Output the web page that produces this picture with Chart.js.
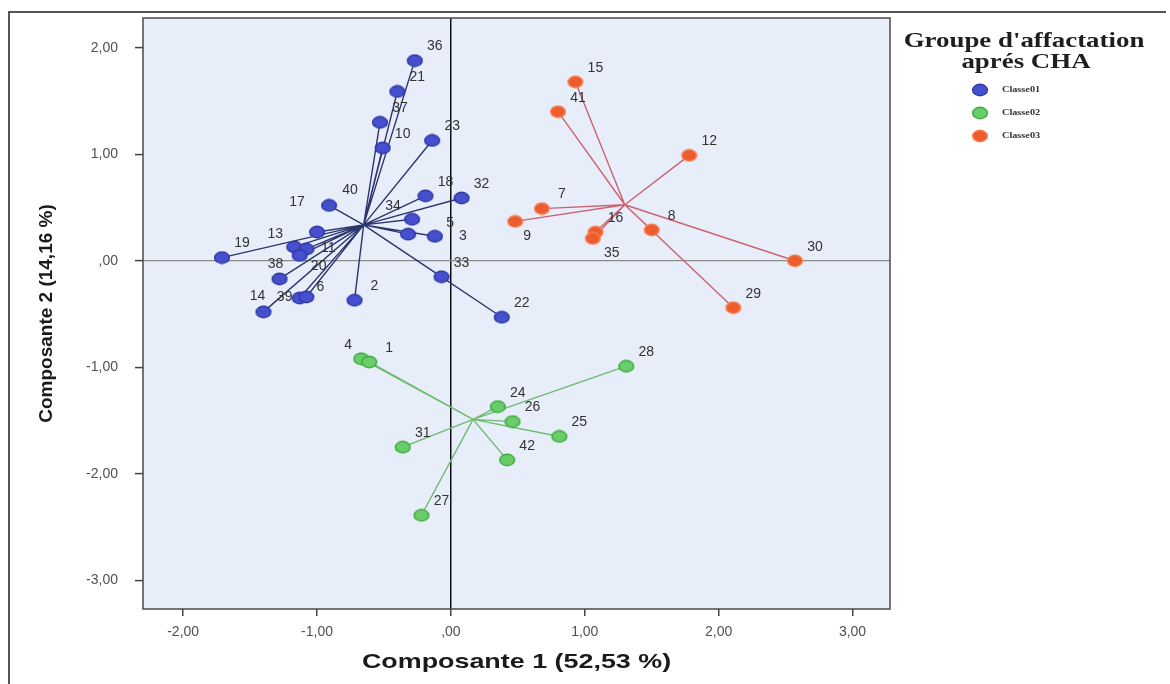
<!DOCTYPE html>
<html lang="fr">
<head>
<meta charset="utf-8">
<title>Groupe d'affactation aprés CHA</title>
<script src="https://cdn.jsdelivr.net/npm/chart.js@4.4.1/dist/chart.umd.min.js"></script>
<style>
  html, body { margin: 0; padding: 0; background: #fff; }
  #wrap { position: relative; width: 1170px; height: 684px; }
</style>
</head>
<body>
<div id="wrap"><canvas id="acp" width="1170" height="684"></canvas></div>
<script>
// Données (plan factoriel, composantes 1 et 2)
const classeLabels = ['Classe01', 'Classe02', 'Classe03'];

const classe01Ids = ['36', '21', '37', '10', '23', '18', '32', '34', '5', '3', '17', '40', '13', '11', '20', '19', '38', '39', '6', '14', '2', '33', '22'];
const classe01X = [-0.27, -0.40, -0.53, -0.51, -0.14, -0.19, 0.08, -0.29, -0.32, -0.12, -0.91, -1.00, -1.17, -1.08, -1.13, -1.71, -1.28, -1.13, -1.08, -1.40, -0.72, -0.07, 0.38];
const classe01Y = [1.88, 1.59, 1.30, 1.06, 1.13, 0.61, 0.59, 0.39, 0.25, 0.23, 0.52, 0.27, 0.13, 0.11, 0.05, 0.03, -0.17, -0.35, -0.34, -0.48, -0.37, -0.15, -0.53];

const classe02Ids = ['4', '1', '28', '24', '26', '25', '31', '42', '27'];
const classe02X = [-0.67, -0.61, 1.31, 0.35, 0.46, 0.81, -0.36, 0.42, -0.22];
const classe02Y = [-0.92, -0.95, -0.99, -1.37, -1.51, -1.65, -1.75, -1.87, -2.39];

const classe03Ids = ['15', '41', '12', '7', '9', '16', '35', '8', '30', '29'];
const classe03X = [0.93, 0.80, 1.78, 0.68, 0.48, 1.08, 1.06, 1.50, 2.57, 2.11];
const classe03Y = [1.68, 1.40, 0.99, 0.49, 0.37, 0.27, 0.21, 0.29, 0.00, -0.44];

const xTicks = [-2, -1, 0, 1, 2, 3];
const xTickLabels = ['-2,00', '-1,00', ',00', '1,00', '2,00', '3,00'];
const yTicks = [-3, -2, -1, 0, 1, 2];
const yTickLabels = ['-3,00', '-2,00', '-1,00', ',00', '1,00', '2,00'];

// Couleurs des groupes
const fillColors = ['rgb(70, 80, 205)', 'rgb(105, 205, 105)', 'rgb(236, 92, 46)'];
const rimColors = ['rgb(48, 56, 168)', 'rgb(62, 172, 62)', 'rgb(246, 128, 80)'];
const spokeColors = ['rgb(44, 54, 108)', 'rgb(112, 186, 112)', 'rgb(206, 98, 112)'];

// Décalage des étiquettes quand elles ne sont pas en haut à droite
const labelShift = {
    '34': [-19, -13], '5': [42, -11], '3': [28, 0], '17': [-32, -3], '40': [33, -42],
    '13': [-19, -13], '11': [22, -1], '20': [19, 11], '38': [-4, -15], '39': [-15, -1],
    '6': [14, -10], '14': [-6, -16], '9': [12, 15], '35': [19, 15], '4': [-13, -14]
};

// la figure d'origine est un peu étirée en largeur
const stretch = 1.28;

function mean(arr) {
    return arr.reduce((a, b) => a + b, 0) / arr.length;
}

function toPoints(xs, ys) {
    return xs.map((x, i) => ({ x: x, y: ys[i] }));
}

// Segments centre de classe -> individu, séparés par des trous
function spokes(xs, ys) {
    const cx = mean(xs), cy = mean(ys);
    const pts = [];
    xs.forEach((x, i) => {
        pts.push({ x: cx, y: cy }, { x: x, y: ys[i] }, { x: null, y: null });
    });
    return pts;
}

function drawEllipse(g, x, y, fill, rim) {
    g.beginPath();
    g.ellipse(x, y, 7.3, 5.7, 0, 0, Math.PI * 2);
    g.fillStyle = fill;
    g.fill();
    g.lineWidth = 1.5;
    g.strokeStyle = rim;
    g.stroke();
}

function markerImage(fill, rim) {
    const c = document.createElement('canvas');
    c.width = 18;
    c.height = 14;
    drawEllipse(c.getContext('2d'), 9, 7, fill, rim);
    return c;
}

const groups = [
    { ids: classe01Ids, xs: classe01X, ys: classe01Y },
    { ids: classe02Ids, xs: classe02X, ys: classe02Y },
    { ids: classe03Ids, xs: classe03X, ys: classe03Y }
];

const datasets = [];
groups.forEach((g, k) => {
    datasets.push({
        label: classeLabels[k],
        data: toPoints(g.xs, g.ys),
        ids: g.ids,
        showLine: false,
        pointStyle: markerImage(fillColors[k], rimColors[k]),
        pointRadius: 7,
        pointHoverRadius: 7,
        order: 0
    });
});
groups.forEach((g, k) => {
    datasets.push({
        label: classeLabels[k] + ' centre',
        data: spokes(g.xs, g.ys),
        showLine: true,
        spanGaps: false,
        borderColor: spokeColors[k],
        borderWidth: 1.4,
        pointRadius: 0,
        pointHoverRadius: 0,
        order: 1
    });
});

const plotBackground = {
    id: 'plotBackground',
    beforeDraw(chart) {
        const { ctx, chartArea: a } = chart;
        ctx.save();
        ctx.fillStyle = '#e7eefa';
        ctx.fillRect(a.left, a.top, a.right - a.left, a.bottom - a.top);
        ctx.restore();
    }
};

const pointLabels = {
    id: 'pointLabels',
    afterDatasetsDraw(chart) {
        const ctx = chart.ctx;
        ctx.save();
        ctx.font = '14px "Liberation Sans", Arial, sans-serif';
        ctx.fillStyle = '#333';
        ctx.textAlign = 'center';
        ctx.textBaseline = 'middle';
        chart.data.datasets.forEach((ds, di) => {
            if (!ds.ids) return;
            chart.getDatasetMeta(di).data.forEach((el, i) => {
                const id = ds.ids[i];
                const s = labelShift[id] || [20, -14];
                ctx.fillText(id, el.x + s[0], el.y + s[1]);
            });
        });
        ctx.restore();
    }
};

function stretchedText(ctx, text, x, y) {
    ctx.save();
    ctx.translate(x, y);
    ctx.scale(stretch, 1);
    ctx.fillText(text, 0, 0);
    ctx.restore();
}

const frameAndLegend = {
    id: 'frameAndLegend',
    afterDraw(chart) {
        const { ctx, chartArea: a } = chart;
        ctx.save();
        // cadre du graphique
        ctx.strokeStyle = '#4a4a4a';
        ctx.lineWidth = 1.5;
        ctx.strokeRect(a.left, a.top, a.right - a.left, a.bottom - a.top);
        // cadre extérieur
        ctx.strokeStyle = '#555';
        ctx.lineWidth = 2;
        ctx.beginPath();
        ctx.moveTo(9, 684);
        ctx.lineTo(9, 12);
        ctx.lineTo(1166, 12);
        ctx.stroke();

        // titres des axes
        ctx.fillStyle = '#1a1a1a';
        ctx.textAlign = 'center';
        ctx.textBaseline = 'middle';
        ctx.font = 'bold 21px "Liberation Sans", Arial, sans-serif';
        stretchedText(ctx, 'Composante 1 (52,53 %)', (a.left + a.right) / 2, 662);
        ctx.save();
        ctx.translate(47, (a.top + a.bottom) / 2);
        ctx.rotate(-Math.PI / 2);
        ctx.font = 'bold 19px "Liberation Sans", Arial, sans-serif';
        ctx.fillText('Composante 2 (14,16 %)', 0, 0);
        ctx.restore();

        // légende
        ctx.fillStyle = '#1e1e1e';
        ctx.font = 'bold 21px "Liberation Serif", "Times New Roman", serif';
        stretchedText(ctx, "Groupe d'affactation", 1024, 42);
        stretchedText(ctx, 'aprés CHA', 1026, 63);
        ctx.textAlign = 'left';
        ctx.font = 'bold 8px "Liberation Serif", "Times New Roman", serif';
        classeLabels.forEach((lab, k) => {
            const y = 90 + k * 23;
            drawEllipse(ctx, 980, y, fillColors[k], rimColors[k]);
            ctx.fillStyle = '#333';
            stretchedText(ctx, lab, 1002, y);
        });
        ctx.restore();
    }
};

const tickFont = { family: '"Liberation Sans", Arial, sans-serif', size: 14 };

// la zone de tracé est fixée par le padding, pas par les étiquettes
function noScalePadding(scale) {
    scale.paddingTop = 0;
    scale.paddingBottom = 0;
    scale.paddingLeft = 0;
    scale.paddingRight = 0;
}

new Chart(document.getElementById('acp'), {
    type: 'scatter',
    data: { datasets: datasets },
    options: {
        responsive: false,
        animation: false,
        layout: { padding: { top: 18, right: 280, left: 0, bottom: 0 } },
        plugins: {
            legend: { display: false },
            tooltip: { enabled: false }
        },
        scales: {
            x: {
                type: 'linear',
                min: -2.30,
                max: 3.28,
                afterBuildTicks: scale => { scale.ticks = xTicks.map(v => ({ value: v })); },
                afterFit: scale => { scale.height = 75; noScalePadding(scale); },
                ticks: {
                    callback: (v, i) => xTickLabels[i],
                    color: '#505050',
                    font: tickFont,
                    padding: 8,
                    maxRotation: 0
                },
                grid: {
                    color: c => (c.tick && c.tick.value === 0 ? '#111' : 'rgba(0,0,0,0)'),
                    lineWidth: 1.5,
                    tickColor: '#444',
                    tickLength: 7,
                    tickWidth: 1.5
                },
                border: { display: false }
            },
            y: {
                type: 'linear',
                min: -3.27,
                max: 2.28,
                afterBuildTicks: scale => { scale.ticks = yTicks.map(v => ({ value: v })); },
                afterFit: scale => { scale.width = 143; noScalePadding(scale); },
                ticks: {
                    callback: (v, i) => yTickLabels[i],
                    color: '#505050',
                    font: tickFont,
                    padding: 17
                },
                grid: {
                    color: c => (c.tick && c.tick.value === 0 ? '#8a8a8a' : 'rgba(0,0,0,0)'),
                    lineWidth: 1.2,
                    tickColor: '#444',
                    tickLength: 8,
                    tickWidth: 1.5
                },
                border: { display: false }
            }
        }
    },
    plugins: [plotBackground, pointLabels, frameAndLegend]
});
</script>
</body>
</html>
